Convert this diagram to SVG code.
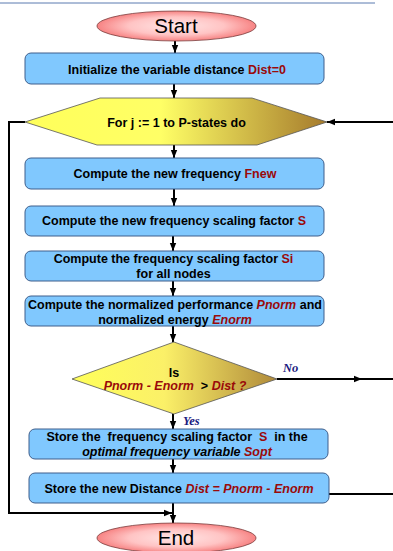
<svg xmlns="http://www.w3.org/2000/svg" width="393" height="551" viewBox="0 0 393 551">
<defs>
<radialGradient id="gEll" cx="50%" cy="50%" r="50%">
<stop offset="0" stop-color="#ffe6e6"/>
<stop offset="0.6" stop-color="#ffc4c4"/>
<stop offset="1" stop-color="#f78383"/>
</radialGradient>
<linearGradient id="gHex" x1="0" y1="0" x2="1" y2="0">
<stop offset="0" stop-color="#ffff5a"/>
<stop offset="0.45" stop-color="#ffff66"/>
<stop offset="1" stop-color="#a57a2c"/>
</linearGradient>
<linearGradient id="gDia" x1="0" y1="0" x2="1" y2="0">
<stop offset="0" stop-color="#ffff5a"/>
<stop offset="0.45" stop-color="#fbf068"/>
<stop offset="1" stop-color="#b08a3a"/>
</linearGradient>
<marker id="arr" markerUnits="userSpaceOnUse" markerWidth="8" markerHeight="8" viewBox="0 0 8 8" refX="8" refY="4" orient="auto">
<path d="M0,0.8 L8,4 L0,7.2 Z" fill="#000"/>
</marker>
</defs>
<style>
.box{fill:#80c8fe;stroke:#3f5f8c;stroke-width:1}
.ell{fill:url(#gEll);stroke:#7a3a3a;stroke-width:0.8}
.t{font-family:"Liberation Sans",Arial,sans-serif;font-weight:bold;font-size:12.5px;fill:#000;text-anchor:middle;white-space:pre}
.big{font-family:"Liberation Sans",Arial,sans-serif;font-size:20.5px;fill:#000;text-anchor:middle}
.r{fill:#9a0a0a}
.i{font-style:italic}
.lab{font-family:"Liberation Serif","Times New Roman",serif;font-weight:bold;font-style:italic;font-size:12.5px;fill:#1a1a80}
.c{fill:none;stroke:#000;stroke-width:2}
</style>
<line x1="0" y1="3" x2="375" y2="3" stroke="#5b7ab0" stroke-width="1"/>

<g id="connectors">
<line class="c" x1="175" y1="41" x2="175" y2="53" marker-end="url(#arr)"/>
<line class="c" x1="174" y1="84" x2="174" y2="98" marker-end="url(#arr)"/>
<line class="c" x1="174" y1="145" x2="174" y2="158" marker-end="url(#arr)"/>
<line class="c" x1="174" y1="189" x2="174" y2="206" marker-end="url(#arr)"/>
<line class="c" x1="173" y1="236" x2="173" y2="251" marker-end="url(#arr)"/>
<line class="c" x1="173" y1="281" x2="173" y2="296" marker-end="url(#arr)"/>
<line class="c" x1="173" y1="326" x2="173" y2="342" marker-end="url(#arr)"/>
<line class="c" x1="173" y1="414" x2="173" y2="429" marker-end="url(#arr)"/>
<line class="c" x1="173" y1="459" x2="173" y2="473" marker-end="url(#arr)"/>
<line class="c" x1="173" y1="503" x2="173" y2="523" marker-end="url(#arr)"/>
<line class="c" x1="277" y1="379" x2="362" y2="379" marker-end="url(#arr)"/>
<line class="c" x1="360" y1="379" x2="393" y2="379"/>
<line class="c" x1="329" y1="494" x2="393" y2="494"/>
<line class="c" x1="393" y1="122" x2="327" y2="122" marker-end="url(#arr)"/>
<path class="c" d="M25,122 H9 V513 H172" marker-end="url(#arr)"/>
<text class="lab" x="283" y="372">No</text>
<text class="lab" x="183" y="425">Yes</text>
</g>

<g id="start">
<ellipse class="ell" cx="176.5" cy="26" rx="79.5" ry="15"/>
<text class="big" x="176" y="33">Start</text>
</g>

<g id="init">
<rect class="box" x="25" y="53" width="299" height="31" rx="6"/>
<text class="t" x="177" y="74">Initialize the variable distance <tspan class="r">Dist=0</tspan></text>
</g>

<g id="loop">
<polygon points="100,98 252,98 327,122 257,145 97,145 25,122" fill="url(#gHex)" stroke="#555" stroke-width="0.8"/>
<text class="t" x="176.5" y="127">For j := 1 to P-states do</text>
</g>

<g id="fnew">
<rect class="box" x="25" y="158" width="299" height="31" rx="6"/>
<text class="t" x="175" y="178">Compute the new frequency <tspan class="r">Fnew</tspan></text>
</g>

<g id="s">
<rect class="box" x="25" y="206" width="299" height="30" rx="6"/>
<text class="t" x="174" y="225">Compute the new frequency scaling factor <tspan class="r">S</tspan></text>
</g>

<g id="si">
<rect class="box" x="25" y="251" width="299" height="30" rx="6"/>
<text class="t" x="173.5" y="263">Compute the frequency scaling factor <tspan class="r">Si</tspan></text>
<text class="t" x="173.5" y="278">for all nodes</text>
</g>

<g id="norm">
<rect class="box" x="25" y="296" width="299" height="30" rx="6"/>
<text class="t" x="175" y="309">Compute the normalized performance <tspan class="r i">Pnorm</tspan> and</text>
<text class="t" x="175" y="324">normalized energy <tspan class="r i">Enorm</tspan></text>
</g>

<g id="decision">
<polygon points="174,342 277,379 174,414 72,379" fill="url(#gDia)" stroke="#555" stroke-width="0.8"/>
<text class="t" x="174" y="377">Is</text>
<text class="t" x="175" y="390"><tspan class="r i">Pnorm - Enorm</tspan>  &gt; <tspan class="r i">Dist ?</tspan></text>
</g>

<g id="store-s">
<rect class="box" x="29" y="429" width="299" height="30" rx="6"/>
<text class="t" x="177" y="441">Store the  frequency scaling factor  <tspan class="r">S</tspan>  in the</text>
<text class="t i" x="177" y="456">optimal frequency variable <tspan class="r">Sopt</tspan></text>
</g>

<g id="store-dist">
<rect class="box" x="29" y="473" width="300" height="30" rx="6"/>
<text class="t" x="179" y="493">Store the new Distance <tspan class="r i">Dist = Pnorm - Enorm</tspan></text>
</g>

<g id="end">
<ellipse class="ell" cx="176.5" cy="538" rx="79.5" ry="15"/>
<text class="big" x="176" y="545">End</text>
</g>
</svg>
